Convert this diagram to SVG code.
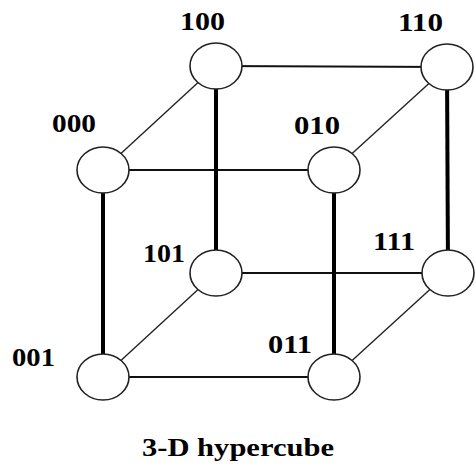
<svg xmlns="http://www.w3.org/2000/svg" width="475" height="468" viewBox="0 0 475 468">
<style>
.h{stroke:#111;stroke-width:2;fill:none}
.v{stroke:#000;stroke-width:4;fill:none}
.d{stroke:#222;stroke-width:1.4;fill:none}
.n{fill:#fff;stroke:#222;stroke-width:1.6}
text{font-family:'Liberation Serif','DejaVu Serif',serif;font-weight:700;font-size:25px;fill:#000}
</style>
<rect width="475" height="468" fill="#fff"/>
<g id="connectors">
<line class="h" x1="216" y1="66" x2="447" y2="67"/>
<line class="h" x1="103" y1="170" x2="334" y2="170"/>
<line class="h" x1="216" y1="273" x2="448" y2="273"/>
<line class="h" x1="103" y1="377" x2="334" y2="377"/>
<line class="v" x1="103" y1="170" x2="103" y2="377"/>
<line class="v" x1="216" y1="66" x2="216" y2="273"/>
<line class="v" x1="334" y1="170" x2="334" y2="377"/>
<line class="v" x1="447" y1="67" x2="448" y2="273"/>
<line class="d" x1="103" y1="170" x2="216" y2="66"/>
<line class="d" x1="334" y1="170" x2="447" y2="67"/>
<line class="d" x1="103" y1="377" x2="216" y2="273"/>
<line class="d" x1="334" y1="377" x2="448" y2="273"/>
</g>
<g id="n100"><ellipse class="n" cx="216" cy="66" rx="26" ry="23"/><text x="180" y="30" textLength="45" lengthAdjust="spacingAndGlyphs">100</text></g>
<g id="n110"><ellipse class="n" cx="447" cy="67" rx="26" ry="23"/><text x="398" y="31" textLength="45" lengthAdjust="spacingAndGlyphs">110</text></g>
<g id="n000"><ellipse class="n" cx="103" cy="170" rx="26" ry="23"/><text x="52" y="132" textLength="44" lengthAdjust="spacingAndGlyphs">000</text></g>
<g id="n010"><ellipse class="n" cx="334" cy="170" rx="26" ry="23"/><text x="294" y="134" textLength="46" lengthAdjust="spacingAndGlyphs">010</text></g>
<g id="n101"><ellipse class="n" cx="216" cy="273" rx="26" ry="23"/><text x="143" y="262" textLength="42" lengthAdjust="spacingAndGlyphs">101</text></g>
<g id="n111"><ellipse class="n" cx="448" cy="273" rx="26" ry="23"/><text x="373" y="250" textLength="42" lengthAdjust="spacingAndGlyphs">111</text></g>
<g id="n001"><ellipse class="n" cx="103" cy="377" rx="26" ry="23"/><text x="12" y="366" textLength="43" lengthAdjust="spacingAndGlyphs">001</text></g>
<g id="n011"><ellipse class="n" cx="334" cy="377" rx="26" ry="23"/><text x="268" y="353" textLength="44" lengthAdjust="spacingAndGlyphs">011</text></g>
<text id="caption" x="142" y="456" textLength="192" lengthAdjust="spacingAndGlyphs">3-D hypercube</text>
</svg>
